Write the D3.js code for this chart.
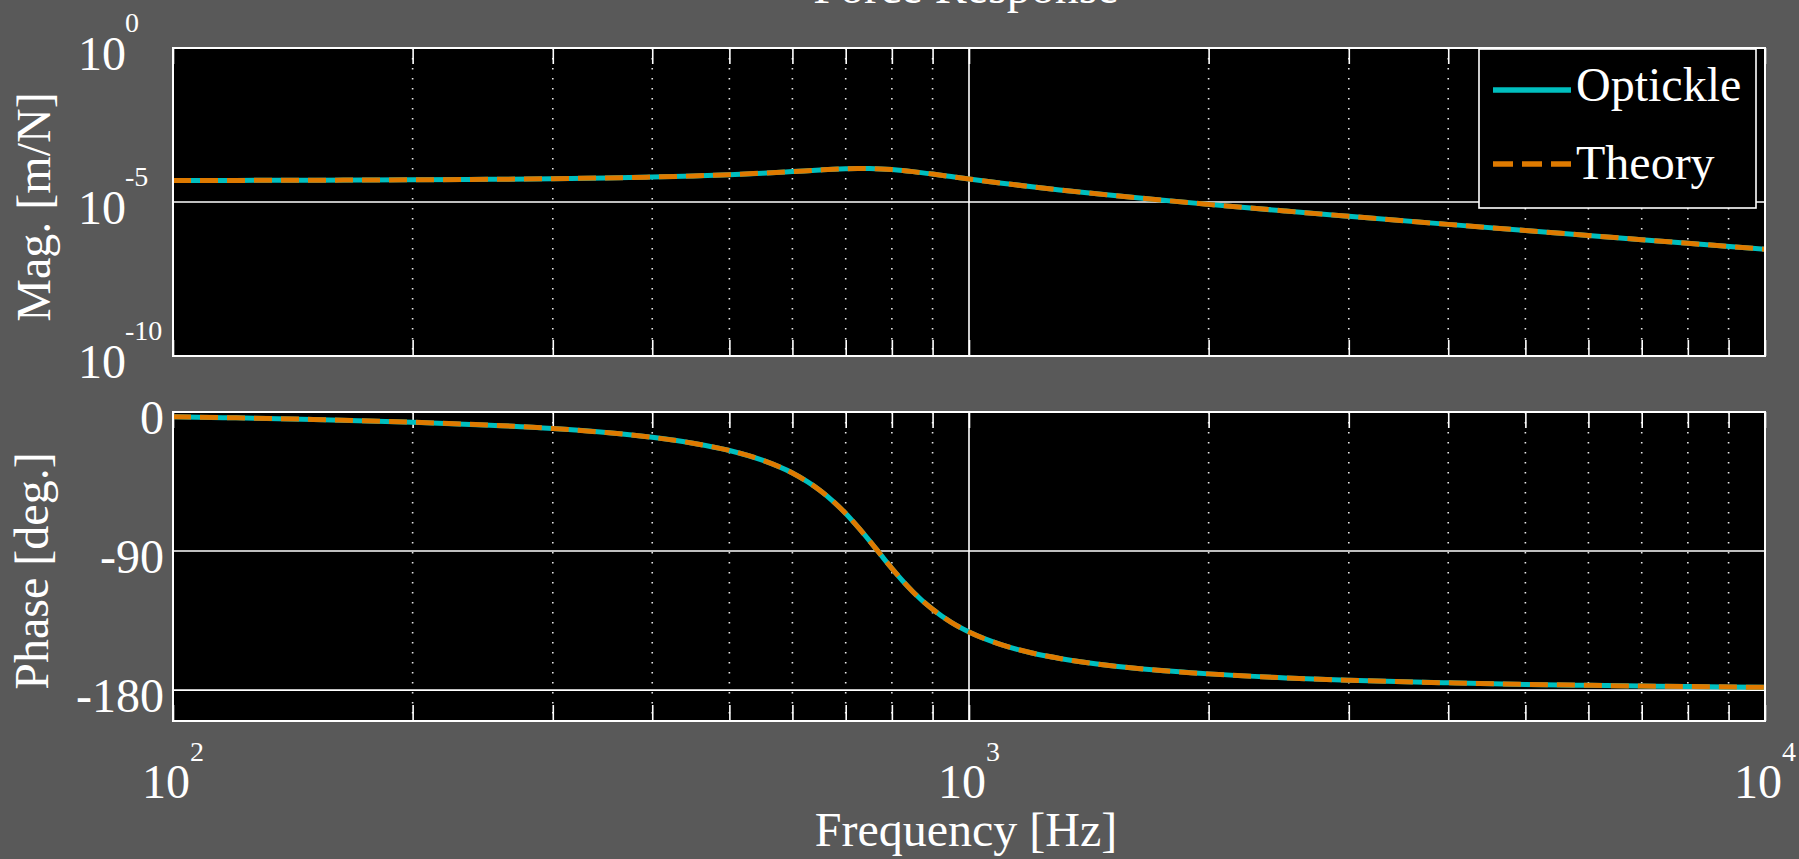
<!DOCTYPE html>
<html><head><meta charset="utf-8">
<script src="https://cdn.jsdelivr.net/npm/d3@7"></script>
<style>
html,body{margin:0;padding:0;background:#595959;overflow:hidden}
svg{display:block}
text{font-family:"Liberation Serif","Times New Roman",serif;fill:#fff}
</style></head><body>
<script>
// ---- data ----
const freqHz = [100,120,150,200,250,300,350,400,450,500,550,600,650,675,700,725,750,775,800,825,850,900,950,1000,1100,1200,1300,1500,1700,2000,2500,3000,4000,5000,6000,7000,8000,10000];
const magOptickle = [5.00e-5,5.03e-5,5.10e-5,5.24e-5,5.44e-5,5.71e-5,6.04e-5,6.48e-5,7.03e-5,7.74e-5,8.64e-5,9.74e-5,1.095e-4,1.152e-4,1.196e-4,1.220e-4,1.216e-4,1.184e-4,1.126e-4,1.051e-4,9.68e-5,8.07e-5,6.69e-5,5.60e-5,4.08e-5,3.12e-5,2.47e-5,1.68e-5,1.229e-5,8.37e-6,5.08e-6,3.43e-6,1.877e-6,1.187e-6,8.18e-7,5.99e-7,4.57e-7,2.92e-7];
const magTheory   = [5.00e-5,5.03e-5,5.10e-5,5.24e-5,5.44e-5,5.71e-5,6.04e-5,6.48e-5,7.03e-5,7.74e-5,8.64e-5,9.74e-5,1.095e-4,1.152e-4,1.196e-4,1.220e-4,1.216e-4,1.184e-4,1.126e-4,1.051e-4,9.68e-5,8.07e-5,6.69e-5,5.60e-5,4.08e-5,3.12e-5,2.47e-5,1.68e-5,1.229e-5,8.37e-6,5.08e-6,3.43e-6,1.877e-6,1.187e-6,8.18e-7,5.99e-7,4.57e-7,2.92e-7];
const phaseOptickle = [-3.1,-3.8,-4.8,-6.6,-8.5,-10.7,-13.3,-16.4,-20.2,-24.9,-31.2,-39.5,-50.8,-57.8,-65.7,-74.4,-83.4,-92.5,-101.2,-109.2,-116.3,-127.7,-136.2,-142.4,-150.7,-156.0,-159.5,-164.1,-166.9,-169.5,-172.1,-173.6,-175.3,-176.3,-176.9,-177.4,-177.7,-178.2];
const phaseTheory   = [-3.1,-3.8,-4.8,-6.6,-8.5,-10.7,-13.3,-16.4,-20.2,-24.9,-31.2,-39.5,-50.8,-57.8,-65.7,-74.4,-83.4,-92.5,-101.2,-109.2,-116.3,-127.7,-136.2,-142.4,-150.7,-156.0,-159.5,-164.1,-166.9,-169.5,-172.1,-173.6,-175.3,-176.3,-176.9,-177.4,-177.7,-178.2];
const seriesNames = ["Optickle","Theory"];
const freqMajorTicks = [100,1000,10000];
const freqMinorTicks = [200,300,400,500,600,700,800,900,2000,3000,4000,5000,6000,7000,8000,9000];
const magTicks = [1e-10,1e-5,1];
const magTickExp = ["-10","-5","0"];
const freqTickExp = ["2","3","4"];
const phaseTicks = [-180,-90,0];
const phaseTickLabels = ["-180","-90","0"];
const titleText = "Force Response";
const xLabel = "Frequency [Hz]";
const magLabel = "Mag. [m/N]";
const phaseLabel = "Phase [deg.]";

// ---- layout ----
const W = 1799, H = 859;
const L = 173, R = 1765;
const magTop = 48, magBot = 356, phTop = 412, phBot = 721;
const cOpt = "#00bfbf", cThe = "#de7a00";

const svg = d3.select("body").append("svg").attr("width", W).attr("height", H);
svg.append("rect").attr("width", W).attr("height", H).attr("fill", "#595959");

const x = d3.scaleLog().domain([100, 10000]).range([L, R]);
const yMag = d3.scaleLog().domain([1e-10, 1]).range([magBot, magTop]);
const yPh = d3.scaleLinear().domain([-200, 0]).range([phBot, phTop]);

function panel(id, y, top, bot, yTicks, vals) {
  const g = svg.append("g");
  g.append("rect").attr("x", L).attr("y", top).attr("width", R - L).attr("height", bot - top).attr("fill", "#000");
  g.selectAll(".mg").data(freqMinorTicks).enter().append("line")
    .attr("x1", d => x(d)).attr("x2", d => x(d)).attr("y1", top).attr("y2", bot)
    .attr("stroke", "#e6e6e6").attr("stroke-width", 1.6).attr("stroke-dasharray", "1.6,8.4");
  g.selectAll(".Mg").data(freqMajorTicks.slice(1, -1)).enter().append("line")
    .attr("x1", d => x(d)).attr("x2", d => x(d)).attr("y1", top).attr("y2", bot)
    .attr("stroke", "#fff").attr("stroke-width", 1.6);
  g.selectAll(".Yg").data(yTicks.filter(d => y(d) > top + 1 && y(d) < bot - 1)).enter().append("line")
    .attr("x1", L).attr("x2", R).attr("y1", d => y(d)).attr("y2", d => y(d))
    .attr("stroke", "#fff").attr("stroke-width", 1.6);
  const tickVals = freqMajorTicks.concat(freqMinorTicks);
  const ab = g.append("g").attr("transform", `translate(0,${bot})`)
    .call(d3.axisBottom(x).tickValues(tickVals).tickSize(-16).tickSizeOuter(0).tickFormat(""));
  const at = g.append("g").attr("transform", `translate(0,${top})`)
    .call(d3.axisTop(x).tickValues(tickVals).tickSize(-16).tickSizeOuter(0).tickFormat(""));
  [ab, at].forEach(a => { a.select(".domain").remove(); a.selectAll("line").attr("stroke", "#fff").attr("stroke-width", 1.6); });
  const clipId = "clip" + id;
  svg.append("clipPath").attr("id", clipId).append("rect").attr("x", L).attr("y", top).attr("width", R - L).attr("height", bot - top);
  const line = d3.line().x((d, i) => x(freqHz[i])).y(d => y(d)).curve(d3.curveMonotoneX);
  g.append("path").attr("d", line(vals[0])).attr("fill", "none").attr("stroke", cOpt)
    .attr("stroke-width", 5).attr("clip-path", `url(#${clipId})`);
  g.append("path").attr("d", line(vals[1])).attr("fill", "none").attr("stroke", cThe)
    .attr("stroke-width", 5).attr("stroke-dasharray", "18,9").attr("clip-path", `url(#${clipId})`);
  g.append("rect").attr("x", L).attr("y", top).attr("width", R - L).attr("height", bot - top)
    .attr("fill", "none").attr("stroke", "#fff").attr("stroke-width", 2);
  return g;
}

panel("m", yMag, magTop, magBot, magTicks, [magOptickle, magTheory]);
panel("p", yPh, phTop, phBot, phaseTicks, [phaseOptickle, phaseTheory]);

magTicks.forEach((t, i) => {
  const yy = yMag(t) + 21.5;
  svg.append("text").attr("x", 126).attr("y", yy).attr("text-anchor", "end").attr("font-size", 48).text("10");
  svg.append("text").attr("x", 125).attr("y", yy - 37.5).attr("font-size", 28).text(magTickExp[i]);
});
phaseTicks.forEach((t, i) => {
  svg.append("text").attr("x", 164).attr("y", yPh(t) + 21.5).attr("text-anchor", "end").attr("font-size", 48).text(phaseTickLabels[i]);
});
freqMajorTicks.forEach((t, i) => {
  const tx = svg.append("text").attr("x", x(t)).attr("y", 798).attr("text-anchor", "middle").attr("font-size", 48);
  tx.append("tspan").text("10");
  tx.append("tspan").attr("dy", -37.5).attr("font-size", 28).text(freqTickExp[i]);
});
svg.append("text").attr("x", 966).attr("y", 846).attr("text-anchor", "middle").attr("font-size", 48).text(xLabel);
svg.append("text").attr("transform", "translate(50,207) rotate(-90)").attr("text-anchor", "middle").attr("font-size", 48).text(magLabel);
svg.append("text").attr("transform", "translate(48,571) rotate(-90)").attr("text-anchor", "middle").attr("font-size", 48).text(phaseLabel);
// title: in the reference it sits mostly above the top edge
svg.append("text").attr("x", 966).attr("y", 3).attr("text-anchor", "middle").attr("font-size", 48).text(titleText);

const lg = svg.append("g");
lg.append("rect").attr("x", 1479).attr("y", 49).attr("width", 277).attr("height", 159)
  .attr("fill", "#000").attr("stroke", "#fff").attr("stroke-width", 1.6);
const legY = [90, 164], legTextY = [101, 179];
seriesNames.forEach((n, i) => {
  lg.append("line").attr("x1", 1493).attr("x2", 1571).attr("y1", legY[i]).attr("y2", legY[i])
    .attr("stroke", i === 0 ? cOpt : cThe).attr("stroke-width", 5.5)
    .attr("stroke-dasharray", i === 0 ? null : "20,9");
  lg.append("text").attr("x", 1576).attr("y", legTextY[i]).attr("font-size", 48).text(n);
});
</script>
</body></html>
